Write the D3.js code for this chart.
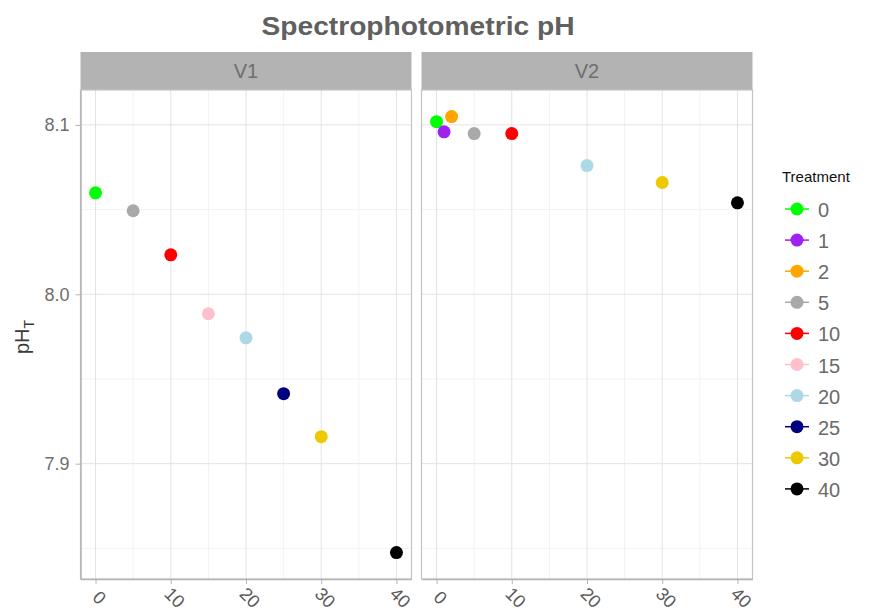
<!DOCTYPE html>
<html><head><meta charset="utf-8">
<script src="https://cdn.jsdelivr.net/npm/d3@7"></script>
<style>body{margin:0;background:#fff}svg{display:block}</style>
</head><body>
<script>
const treatments = ["0","1","2","5","10","15","20","25","30","40"];
const colors = ["#00FF00","#A020F0","#FFA500","#A9A9A9","#FF0000","#FFC0CB","#ADD8E6","#000080","#EEC900","#000000"];
const panels = ["V1","V2"];
const v1Treat = [0,5,10,15,20,25,30,40];
const v1PH = [8.0599,8.0493,8.0233,7.9885,7.9743,7.9413,7.9159,7.8475];
const v2Treat = [0,1,2,5,10,20,30,40];
const v2PH = [8.1019,8.0959,8.1049,8.0949,8.0949,8.0760,8.0660,8.0540];
const xTicks = [0,10,20,30,40];
const yTicks = [7.9,8.0,8.1];

(function(){
const W=872,H=615;
const svg=d3.select("body").append("svg").attr("width",W).attr("height",H);
const font="'Liberation Sans',Arial,sans-serif";
const panelX=[80.5,421.5], panelW=331, pTop=90, pBottom=579, stripTop=52;
const y=d3.scaleLinear().domain([7.8319,8.1206]).range([pBottom,pTop]);
const data=[v1Treat.map((t,i)=>({t,ph:v1PH[i]})), v2Treat.map((t,i)=>({t,ph:v2PH[i]}))];
const col=d3.scaleOrdinal().domain(treatments).range(colors);

svg.append("text").attr("x",418).attr("y",35).attr("text-anchor","middle")
 .attr("font-family",font).attr("font-weight","bold").attr("font-size",25).attr("fill","#606060")
 .attr("textLength",313).attr("lengthAdjust","spacingAndGlyphs").text("Spectrophotometric pH");

panels.forEach((p,pi)=>{
  const x=d3.scaleLinear().domain([-2,42]).range([panelX[pi],panelX[pi]+panelW]);
  const g=svg.append("g");
  g.append("rect").attr("x",panelX[pi]).attr("y",stripTop).attr("width",panelW).attr("height",pTop-stripTop).attr("fill","#b3b3b3");
  g.append("text").attr("x",panelX[pi]+panelW/2).attr("y",(stripTop+pTop)/2+7).attr("text-anchor","middle")
   .attr("font-family",font).attr("font-size",20).attr("fill","#6e6e6e").text(p);
  [5,15,25,35].forEach(v=>g.append("line").attr("x1",x(v)).attr("x2",x(v)).attr("y1",pTop).attr("y2",pBottom).attr("stroke","#f2f2f2").attr("stroke-width",1));
  [7.85,7.95,8.05].forEach(v=>g.append("line").attr("y1",y(v)).attr("y2",y(v)).attr("x1",panelX[pi]).attr("x2",panelX[pi]+panelW).attr("stroke","#f2f2f2").attr("stroke-width",1));
  xTicks.forEach(v=>g.append("line").attr("x1",x(v)).attr("x2",x(v)).attr("y1",pTop).attr("y2",pBottom).attr("stroke","#e3e3e3").attr("stroke-width",1));
  yTicks.forEach(v=>g.append("line").attr("y1",y(v)).attr("y2",y(v)).attr("x1",panelX[pi]).attr("x2",panelX[pi]+panelW).attr("stroke","#e3e3e3").attr("stroke-width",1));
  g.append("rect").attr("x",panelX[pi]).attr("y",pTop).attr("width",panelW).attr("height",pBottom-pTop).attr("fill","none").attr("stroke","#c4c4c4").attr("stroke-width",1.2);
  const xa=g.append("g").attr("transform",`translate(0,${pBottom})`).call(d3.axisBottom(x).tickValues(xTicks).tickSize(5).tickSizeOuter(0));
  xa.select(".domain").attr("stroke","#b5b5b5").attr("stroke-width",1.5);
  xa.selectAll(".tick line").attr("stroke","#b5b5b5");
  xa.selectAll(".tick text").attr("font-family",font).attr("font-size",18).attr("fill","#5a5a5a")
    .attr("text-anchor","middle").attr("y",0).attr("dy",0).attr("transform","translate(-1,23) rotate(45)");
  if(pi===0){
    const ya=g.append("g").attr("transform",`translate(${panelX[0]},0)`).call(d3.axisLeft(y).tickValues(yTicks).tickFormat(d3.format(".1f")).tickSize(5).tickSizeOuter(0));
    ya.select(".domain").attr("stroke","#b5b5b5").attr("stroke-width",1.5);
    ya.selectAll(".tick line").attr("stroke","#b5b5b5");
    ya.selectAll(".tick text").attr("font-family",font).attr("font-size",18).attr("fill","#6e6e6e").attr("x",-11);
  }
  g.selectAll("circle.pt").data(data[pi]).join("circle").attr("class","pt")
   .attr("cx",d=>x(d.t)).attr("cy",d=>y(d.ph)).attr("r",6.5).attr("fill",d=>col(String(d.t)));
});

const yl=svg.append("text").attr("transform","translate(29,337) rotate(-90)").attr("text-anchor","middle")
 .attr("font-family",font).attr("font-size",20).attr("fill","#3a3a3a");
yl.append("tspan").text("pH");
yl.append("tspan").attr("font-size",14).attr("dy",5).text("T");

svg.append("text").attr("x",782).attr("y",182).attr("font-family",font).attr("font-size",15).attr("fill","#111").text("Treatment");
const lg=svg.append("g").selectAll("g").data(treatments).join("g").attr("transform",(d,i)=>`translate(0,${209+i*31.1})`);
lg.append("line").attr("x1",785).attr("x2",809).attr("stroke",d=>col(d)).attr("stroke-width",1.5);
lg.append("circle").attr("cx",797).attr("r",6.5).attr("fill",d=>col(d));
lg.append("text").attr("x",818).attr("y",8).attr("font-family",font).attr("font-size",20).attr("fill","#6a6a6a").text(d=>d);
})();
</script>
</body></html>
